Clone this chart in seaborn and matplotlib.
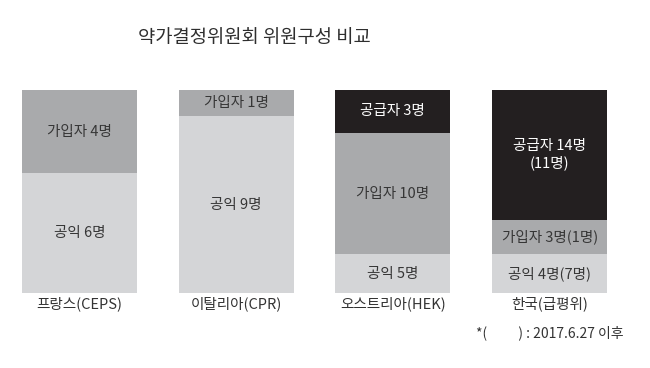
import matplotlib
matplotlib.use("Agg")
import matplotlib.pyplot as plt
import seaborn as sns
import numpy as np

sns.set_theme(style="white")
plt.rcParams['font.family'] = ['Noto Sans CJK KR', 'DejaVu Sans']

# Data (segment shares as drawn, bottom to top) and labels
countries = ["프랑스(CEPS)", "이탈리아(CPR)", "오스트리아(HEK)", "한국(급평위)"]
public_share = [59, 87, 19, 19]
subscriber_share = [41, 13, 60, 17]
supplier_share = [0, 0, 21, 64]
public_labels = ["공익 6명", "공익 9명", "공익 5명", "공익 4명(7명)"]
subscriber_labels = ["가입자 4명", "가입자 1명", "가입자 10명", "가입자 3명(1명)"]
supplier_labels = ["", "", "공급자 3명", "공급자 14명\n(11명)"]

title = "약가결정위원회 위원구성 비교"
footnote = "*(          ) : 2017.6.27 이후"

c_public = "#d4d5d7"
c_sub = "#a9aaac"
c_sup = "#231f20"

fig = plt.figure(figsize=(6.5, 3.68), dpi=100)
ax = fig.add_axes([1/650, (368-293)/368, 627/650, 203/368])

layers = [
    (public_share, np.zeros(4), c_public, public_labels, "#363636"),
    (subscriber_share, np.array(public_share, float), c_sub, subscriber_labels, "#363636"),
    (supplier_share, np.array(public_share, float) + np.array(subscriber_share, float), c_sup, supplier_labels, "white"),
]
for vals, bottoms, col, labels, tcol in layers:
    sns.barplot(x=countries, y=vals, bottom=bottoms, color=col, width=0.735,
                linewidth=0, saturation=1, ax=ax, order=countries)
    for i, (v, b, lab) in enumerate(zip(vals, bottoms, labels)):
        if v > 0 and lab:
            ax.text(i, b + v / 2, lab, ha="center", va="center", fontsize=10.5,
                    color=tcol, linespacing=1.2)

ax.set_xlim(-0.5, 3.5)
ax.set_ylim(0, 100)
ax.set_xlabel("")
ax.set_ylabel("")
ax.set_xticks([])
ax.set_yticks([])
for s in ax.spines.values():
    s.set_visible(False)
ax.patch.set_alpha(0)

for i, c in enumerate(countries):
    ax.text(i, -1.5, c, ha="center", va="top", fontsize=10.5, color="#333333")

fig.text(254/650, 1 - 37/368, title, ha="center", va="center", fontsize=13.5,
         color="#2e2e2e")
fig.text(623/650, 1 - 333/368, footnote, ha="right", va="center", fontsize=10, color="#333333")

fig.savefig("out.png", dpi=100, facecolor="white")
